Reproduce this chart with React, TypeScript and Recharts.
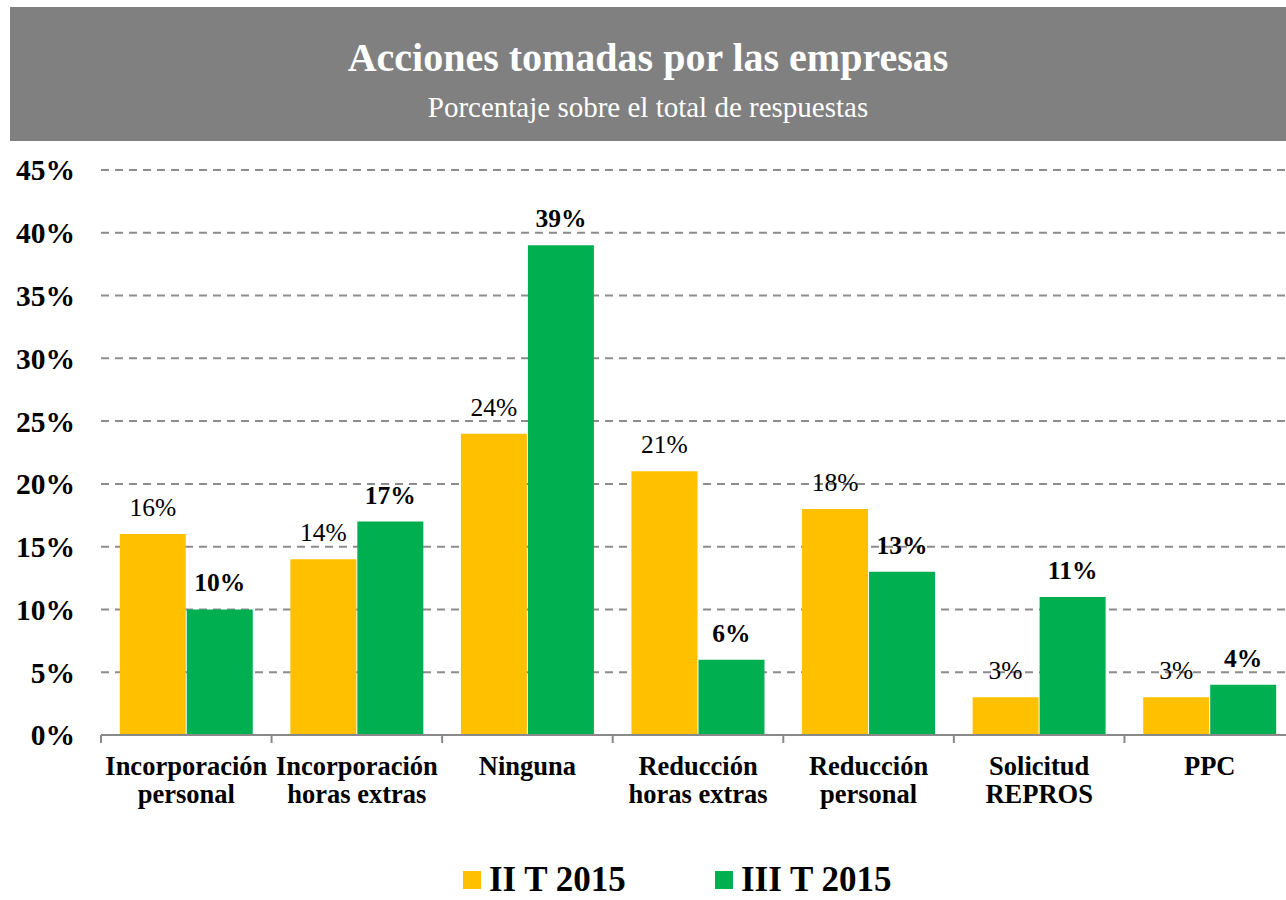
import { BarChart, Bar, XAxis, YAxis, CartesianGrid, LabelList } from "recharts";

const categories = [
  ["Incorporación", "personal"],
  ["Incorporación", "horas extras"],
  ["Ninguna"],
  ["Reducción", "horas extras"],
  ["Reducción", "personal"],
  ["Solicitud", "REPROS"],
  ["PPC"],
];
const seriesII = [16, 14, 24, 21, 18, 3, 3];
const seriesIII = [10, 17, 39, 6, 13, 11, 4];
const yTicks = [0, 5, 10, 15, 20, 25, 30, 35, 40, 45];

const data = categories.map((lines, i) => ({
  name: lines.join("\n"),
  ii: seriesII[i],
  iii: seriesIII[i],
}));

const FONT = "'Liberation Serif', 'Times New Roman', serif";
const YELLOW = "#FFC000";
const GREEN = "#00B050";
const CHART_W = 1300;
const PLOT_LEFT = 101;
const PLOT_RIGHT = 1295;
const CAT_W = (PLOT_RIGHT - PLOT_LEFT) / categories.length;

function CategoryTick(props: any) {
  const { x, y, payload, index } = props;
  const lines = String(payload.value).split("\n");
  return (
    <g>
      <line x1={x - CAT_W / 2} x2={x - CAT_W / 2} y1={y - 8} y2={y} stroke="#898989" strokeWidth={2} />
      {index === categories.length - 1 && (
        <line x1={x + CAT_W / 2} x2={x + CAT_W / 2} y1={y - 8} y2={y} stroke="#898989" strokeWidth={2} />
      )}
      {lines.map((t, i) => (
        <text
          key={i}
          x={x}
          y={y + 32 + i * 28}
          textAnchor="middle"
          fontFamily={FONT}
          fontWeight="bold"
          fontSize={26.5}
          fill="#000"
        >
          {t}
        </text>
      ))}
    </g>
  );
}

export default function App() {
  return (
    <div
      style={{
        position: "fixed",
        left: 0,
        top: 0,
        width: 1286,
        height: 900,
        overflow: "hidden",
        background: "#fff",
        fontFamily: FONT,
      }}
    >
      {/* Title banner */}
      <div
        style={{
          position: "absolute",
          left: 10,
          top: 7,
          width: 1276,
          height: 134,
          background: "#808080",
          color: "#fff",
          textAlign: "center",
        }}
      >
        <div style={{ position: "absolute", left: 0, right: 0, top: 27, fontSize: 40, fontWeight: "bold", lineHeight: "48px" }}>
          Acciones tomadas por las empresas
        </div>
        <div style={{ position: "absolute", left: 0, right: 0, top: 83, fontSize: 29, lineHeight: "34px" }}>
          Porcentaje sobre el total de respuestas
        </div>
      </div>

      <div style={{ position: "absolute", left: 0, top: 0 }}>
        <BarChart
          width={CHART_W}
          height={900}
          data={data}
          margin={{ top: 170, right: CHART_W - PLOT_RIGHT, bottom: 75, left: 0 }}
          barCategoryGap="11%"
          barGap={1}
        >
          <CartesianGrid vertical={false} stroke="#8c8c8c" strokeWidth={2} strokeDasharray="8 6" />
          <YAxis
            width={PLOT_LEFT}
            domain={[0, 45]}
            ticks={yTicks}
            interval={0}
            tickFormatter={(v: number) => `${v}%`}
            axisLine={false}
            tickLine={false}
            tickSize={0}
            tickMargin={26}
            tick={{ fontFamily: FONT, fontSize: 29.5, fontWeight: "bold", fill: "#000" }}
          />
          <XAxis
            dataKey="name"
            height={90}
            interval={0}
            axisLine={{ stroke: "#898989", strokeWidth: 2 }}
            tickLine={false}
            tick={<CategoryTick />}
          />
          <Bar dataKey="ii" fill={YELLOW} isAnimationActive={false}>
            <LabelList
              dataKey="ii"
              position="top"
              offset={18}
              formatter={(v: any) => `${v}%`}
              style={{ fontFamily: FONT, fontSize: 25.5, fill: "#000" }}
            />
          </Bar>
          <Bar dataKey="iii" fill={GREEN} isAnimationActive={false}>
            <LabelList
              dataKey="iii"
              position="top"
              offset={18}
              formatter={(v: any) => `${v}%`}
              style={{ fontFamily: FONT, fontSize: 25.5, fontWeight: "bold", fill: "#000" }}
            />
          </Bar>
        </BarChart>
      </div>

      {/* Legend */}
      <div
        style={{
          position: "absolute",
          top: 865,
          left: 463,
          display: "flex",
          alignItems: "center",
          fontSize: 35,
          fontWeight: "bold",
          lineHeight: "30px",
          height: 30,
          color: "#000",
        }}
      >
        <span style={{ width: 18, height: 18, background: YELLOW, display: "inline-block", marginRight: 8 }} />
        <span style={{ width: 226 }}>II T 2015</span>
        <span style={{ width: 18, height: 18, background: GREEN, display: "inline-block", marginRight: 8 }} />
        <span>III T 2015</span>
      </div>
    </div>
  );
}
